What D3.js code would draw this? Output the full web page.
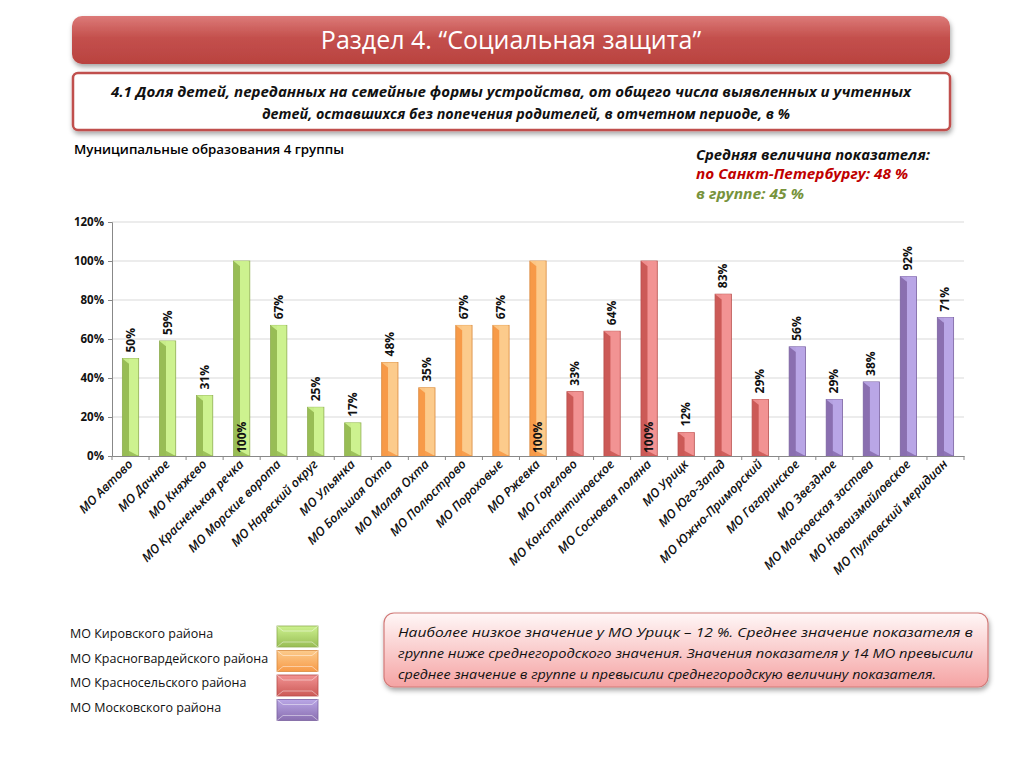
<!DOCTYPE html>
<html>
<head>
<meta charset="utf-8">
<script src="https://cdn.jsdelivr.net/npm/d3@7"></script>
<style>
  body { margin: 0; background: #fff; }
  svg { display: block; font-family: "Open Sans", "Noto Sans", sans-serif; }
</style>
</head>
<body>
<svg width="1024" height="768"></svg>
<script>
// data
let categories = ["МО Автово", "МО Дачное", "МО Княжево", "МО Красненькая речка", "МО Морские ворота",
  "МО Нарвский округ", "МО Ульянка", "МО Большая Охта", "МО Малая Охта", "МО Полюстрово",
  "МО Пороховые", "МО Ржевка", "МО Горелово", "МО Константиновское", "МО Сосновая поляна",
  "МО Урицк", "МО Юго-Запад", "МО Южно-Приморский", "МО Гагаринское", "МО Звездное",
  "МО Московская застава", "МО Новоизмайловское", "МО Пулковский меридиан"];
let values = [50, 59, 31, 100, 67, 25, 17, 48, 35, 67, 67, 100, 33, 64, 100, 12, 83, 29, 56, 29, 38, 92, 71];
let groupOf = [0,0,0,0,0,0,0, 1,1,1,1,1, 2,2,2,2,2,2, 3,3,3,3,3];
let groups = ["МО Кировского района", "МО Красногвардейского района", "МО Красносельского района", "МО Московского района"];
let yTicks = [0, 20, 40, 60, 80, 100, 120];

let light = ["#cdf28f", "#fccb8c", "#f29393", "#b9a6e6"],
    dark = ["#98bd55", "#f79a48", "#cc5a57", "#8a6fb0"],
    edge = ["#8fae52", "#d98a3e", "#b84f4c", "#7a62a0"];

let svg = d3.select("svg");
let defs = svg.append("defs");

let sh = defs.append("filter").attr("id", "shadow").attr("x", "-5%").attr("y", "-20%").attr("width", "110%").attr("height", "150%");
sh.append("feDropShadow").attr("dx", 1).attr("dy", 3).attr("stdDeviation", 2.5).attr("flood-color", "#000").attr("flood-opacity", 0.35);

groups.forEach((g, i) => {
  let gr = defs.append("linearGradient").attr("id", "bar" + i).attr("x1", 0).attr("x2", 1).attr("y1", 0).attr("y2", 0);
  gr.append("stop").attr("offset", "0%").attr("stop-color", dark[i]);
  gr.append("stop").attr("offset", "38%").attr("stop-color", dark[i]);
  gr.append("stop").attr("offset", "42%").attr("stop-color", light[i]);
  gr.append("stop").attr("offset", "100%").attr("stop-color", light[i]);
  let lg = defs.append("linearGradient").attr("id", "leg" + i).attr("x1", 0).attr("x2", 0).attr("y1", 0).attr("y2", 1);
  lg.append("stop").attr("offset", "0%").attr("stop-color", light[i]);
  lg.append("stop").attr("offset", "100%").attr("stop-color", dark[i]);
});

let banner = defs.append("linearGradient").attr("id", "banner").attr("x1", 0).attr("x2", 0).attr("y1", 0).attr("y2", 1);
banner.append("stop").attr("offset", "0%").attr("stop-color", "#dc7a78");
banner.append("stop").attr("offset", "45%").attr("stop-color", "#c4504d");
banner.append("stop").attr("offset", "100%").attr("stop-color", "#b9423f");

let note = defs.append("linearGradient").attr("id", "note").attr("x1", 0).attr("x2", 0).attr("y1", 0).attr("y2", 1);
note.append("stop").attr("offset", "0%").attr("stop-color", "#fff7f7");
note.append("stop").attr("offset", "100%").attr("stop-color", "#f5a3a3");

// header banner
svg.append("rect").attr("x", 72).attr("y", 16).attr("width", 878).attr("height", 48).attr("rx", 10)
  .attr("fill", "url(#banner)").attr("filter", "url(#shadow)");
svg.append("text").attr("x", 511).attr("y", 49).attr("text-anchor", "middle")
  .attr("fill", "#fff").style("font-size", "25px")
  .text("Раздел 4. “Социальная защита”");

// subtitle box
svg.append("rect").attr("x", 73).attr("y", 73).attr("width", 877).attr("height", 57).attr("rx", 5)
  .attr("fill", "#fff").attr("stroke", "#c0504d").attr("stroke-width", 2.5).attr("filter", "url(#shadow)");
let sub = svg.append("text").attr("text-anchor", "middle").style("font-size", "14px")
  .style("font-weight", "bold").style("font-style", "italic").attr("fill", "#111");
sub.append("tspan").attr("x", 511).attr("y", 97).attr("textLength", 800).attr("lengthAdjust", "spacingAndGlyphs")
  .text("4.1 Доля детей, переданных на семейные формы устройства, от общего числа выявленных и учтенных");
sub.append("tspan").attr("x", 526).attr("y", 119).attr("textLength", 528).attr("lengthAdjust", "spacingAndGlyphs")
  .text("детей, оставшихся без попечения родителей, в отчетном периоде, в  %");

svg.append("text").attr("x", 74).attr("y", 154).style("font-size", "13px").style("font-weight", "600")
  .attr("textLength", 270).attr("lengthAdjust", "spacingAndGlyphs")
  .text("Муниципальные образования 4 группы");

let avg = svg.append("g").style("font-weight", "bold").style("font-style", "italic");
avg.append("text").attr("x", 696).attr("y", 160).attr("fill", "#111").style("font-size", "14.5px")
  .attr("textLength", 234).attr("lengthAdjust", "spacingAndGlyphs").text("Средняя величина показателя:");
avg.append("text").attr("x", 696).attr("y", 179).attr("fill", "#c00000").style("font-size", "14px")
  .attr("textLength", 212).attr("lengthAdjust", "spacingAndGlyphs").text("по Санкт-Петербургу:  48 %");
avg.append("text").attr("x", 696).attr("y", 199).attr("fill", "#77933c").style("font-size", "14px")
  .attr("textLength", 108).attr("lengthAdjust", "spacingAndGlyphs").text("в группе:  45 %");

// chart
let x0 = 112, x1 = 964, yTop = 222, yBot = 456;
let x = d3.scaleBand().domain(categories).range([x0, x1]).paddingInner(0.56).paddingOuter(0.28);
let y = d3.scaleLinear().domain([0, 120]).range([yBot, yTop]);

let grid = svg.append("g");
grid.selectAll("line").data(yTicks.filter(d => d > 0)).enter().append("line")
  .attr("x1", x0).attr("x2", x1).attr("y1", d => y(d)).attr("y2", d => y(d))
  .attr("stroke", "#d9d9d9").attr("stroke-width", 1);

let yAxis = svg.append("g").attr("transform", `translate(${x0},0)`)
  .call(d3.axisLeft(y).tickValues(yTicks).tickFormat(d => d + "%").tickSize(4));
yAxis.select(".domain").attr("stroke", "#888");
yAxis.selectAll(".tick line").attr("stroke", "#888");
yAxis.selectAll("text").attr("x", -8).style("font-size", "11.5px").style("font-weight", "bold").attr("fill", "#111")
  .style("font-family", "'Open Sans', sans-serif");

let step = (x1 - x0) / categories.length;
let bars = svg.append("g");
bars.selectAll("rect").data(values).enter().append("rect")
  .attr("x", (d, i) => x(categories[i]))
  .attr("y", d => y(d))
  .attr("width", x.bandwidth())
  .attr("height", d => yBot - y(d))
  .attr("fill", (d, i) => `url(#bar${groupOf[i]})`)
  .attr("stroke", (d, i) => edge[groupOf[i]]).attr("stroke-width", 0.8);
// bevel at top and bottom of each bar
bars.selectAll("path.top").data(values).enter().append("path").attr("class", "top")
  .attr("d", (d, i) => {
    let bx = x(categories[i]), bw = x.bandwidth(), by = y(d);
    return `M${bx},${by} L${bx + bw},${by} L${bx + bw * 0.42},${by + 5} L${bx + bw * 0.38},${by + 5}Z`;
  })
  .attr("fill", (d, i) => light[groupOf[i]]).attr("opacity", 0.9);
bars.selectAll("path.bot").data(values).enter().append("path").attr("class", "bot")
  .attr("d", (d, i) => {
    let bx = x(categories[i]), bw = x.bandwidth();
    return `M${bx},${yBot} L${bx + bw},${yBot} L${bx + bw * 0.42},${yBot - 5} L${bx + bw * 0.38},${yBot - 5}Z`;
  })
  .attr("fill", (d, i) => dark[groupOf[i]]).attr("opacity", 0.9);

let xAxis = svg.append("g").attr("transform", `translate(0,${yBot})`)
  .call(d3.axisBottom(x).tickSize(0).tickFormat(""));
xAxis.select(".domain").attr("stroke", "#888");
svg.append("g").selectAll("line").data(d3.range(categories.length + 1)).enter().append("line")
  .attr("x1", d => x0 + d * step).attr("x2", d => x0 + d * step)
  .attr("y1", yBot).attr("y2", yBot + 4).attr("stroke", "#888");

// value labels
svg.append("g").selectAll("text").data(values).enter().append("text")
  .attr("transform", (d, i) => {
    let cx = x(categories[i]) + x.bandwidth() / 2 + 4;
    let ty = d >= 100 ? yBot - 3 : y(d) - 6;
    return `translate(${cx},${ty}) rotate(-90)`;
  })
  .style("font-size", "12px").style("font-weight", "bold").attr("fill", "#111")
  .text(d => d + "%");

// category labels
svg.append("g").selectAll("text").data(categories).enter().append("text")
  .attr("transform", d => `translate(${x(d) + x.bandwidth() / 2 + 3},${yBot + 9}) rotate(-45)`)
  .attr("text-anchor", "end")
  .style("font-size", "12.5px").style("font-weight", "600").style("font-style", "italic").attr("fill", "#111")
  .text(d => d);

// legend
let leg = svg.append("g");
groups.forEach((g, i) => {
  let yy = 626 + i * 24.5;
  leg.append("text").attr("x", 70).attr("y", yy + 12).style("font-size", "12.5px").attr("fill", "#111").text(g);
  leg.append("rect").attr("x", 277).attr("y", yy).attr("width", 41).attr("height", 21)
    .attr("fill", `url(#leg${i})`).attr("stroke", edge[i]).attr("stroke-width", 0.8);
  leg.append("path").attr("d", `M277,${yy} L283,${yy + 5} L312,${yy + 5} L318,${yy} M277,${yy + 21} L283,${yy + 16} L312,${yy + 16} L318,${yy + 21}`)
    .attr("fill", "none").attr("stroke", "#fff").attr("stroke-opacity", 0.45);
});

// note box
svg.append("rect").attr("x", 384).attr("y", 613).attr("width", 604).attr("height", 74).attr("rx", 10)
  .attr("fill", "url(#note)").attr("stroke", "#d27a78").attr("stroke-width", 1.2).attr("filter", "url(#shadow)");
let noteLines = [
  "Наиболее низкое значение у МО Урицк – 12 %. Среднее значение показателя в",
  "группе ниже среднегородского значения. Значения показателя у 14 МО превысили",
  "среднее значение в группе и превысили среднегородскую величину показателя."
];
let noteWidths = [575, 575, 538];
svg.append("g").selectAll("text").data(noteLines).enter().append("text")
  .attr("x", 398).attr("y", (d, i) => 637 + i * 21)
  .attr("textLength", (d, i) => noteWidths[i]).attr("lengthAdjust", "spacingAndGlyphs")
  .style("font-size", "13.5px").style("font-style", "italic").attr("fill", "#111")
  .text(d => d);
</script>
</body>
</html>
